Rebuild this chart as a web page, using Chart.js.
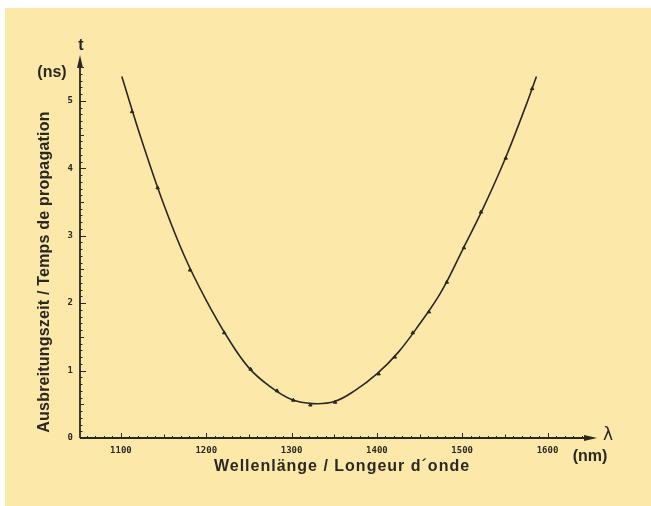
<!DOCTYPE html>
<html>
<head>
<meta charset="utf-8">
<script src="https://cdn.jsdelivr.net/npm/chart.js@4.4.1/dist/chart.umd.min.js"></script>
<style>
  html, body { margin: 0; padding: 0; background: #ffffff; }
  #wrap { position: relative; width: 651px; height: 506px; }
  #paper { position: absolute; left: 5px; top: 8px; right: 0; bottom: 0; background: #fce9a9; }
  canvas { position: absolute; left: 0; top: 0; }
</style>
</head>
<body>
<div id="wrap">
  <div id="paper"></div>
  <canvas id="chart" width="651" height="506"></canvas>
</div>
<script>
// Messpunkte (nm, ns)
const puntosX = [1113, 1143, 1181, 1221, 1252, 1283, 1302, 1322, 1351, 1402, 1421, 1442, 1461, 1482, 1502, 1522, 1551, 1582];
const puntosY = [4.84, 3.71, 2.49, 1.56, 1.02, 0.70, 0.56, 0.49, 0.53, 0.95, 1.20, 1.56, 1.87, 2.31, 2.82, 3.35, 4.15, 5.18];

// Ausgleichskurve
const curvaX = [1101, 1125, 1150, 1175, 1200, 1225, 1250, 1275, 1300, 1325, 1350, 1375, 1400, 1425, 1450, 1475, 1500, 1525, 1550, 1575, 1587];
const curvaY = [5.36, 4.39, 3.47, 2.68, 2.04, 1.49, 1.04, 0.76, 0.57, 0.51, 0.54, 0.71, 0.95, 1.27, 1.69, 2.16, 2.78, 3.42, 4.13, 4.94, 5.36];

const ticksX = [1100, 1200, 1300, 1400, 1500, 1600];
const ticksY = [0, 1, 2, 3, 4, 5];

const tituloX = "Wellenlänge / Longeur d\u00b4onde";
const tituloY = "Ausbreitungszeit / Temps de propagation";

function armarPuntos(xs, ys) {
  const out = [];
  for (let i = 0; i < xs.length; i++) out.push({ x: xs[i], y: ys[i] });
  return out;
}

const tinta = "#2b2722";

const ejes = {
  id: "ejes",
  afterDraw: function (chart) {
    const ctx = chart.ctx;
    const sx = chart.scales.x;
    const sy = chart.scales.y;
    const x0 = sx.getPixelForValue(sx.min);
    const y0 = sy.getPixelForValue(0);
    const xEnd = sx.getPixelForValue(sx.max);
    const yEnd = sy.getPixelForValue(sy.max);

    ctx.save();
    ctx.strokeStyle = tinta;
    ctx.fillStyle = tinta;

    // axis lines
    ctx.lineWidth = 1.8;
    ctx.beginPath();
    ctx.moveTo(x0, y0);
    ctx.lineTo(xEnd - 8, y0);
    ctx.moveTo(x0, y0);
    ctx.lineTo(x0, yEnd + 8);
    ctx.stroke();

    // arrows
    ctx.beginPath();
    ctx.moveTo(xEnd, y0);
    ctx.lineTo(xEnd - 13, y0 - 3);
    ctx.lineTo(xEnd - 13, y0 + 3);
    ctx.closePath();
    ctx.fill();
    ctx.beginPath();
    ctx.moveTo(x0, yEnd);
    ctx.lineTo(x0 - 3, yEnd + 13);
    ctx.lineTo(x0 + 3, yEnd + 13);
    ctx.closePath();
    ctx.fill();

    // x ticks every 10 nm
    ctx.lineWidth = 1;
    ctx.beginPath();
    for (let v = 1060; v <= 1640; v += 10) {
      const px = Math.round(sx.getPixelForValue(v)) + 0.5;
      let len = 2;
      if (v % 100 === 0) len = 5;
      else if (v % 50 === 0) len = 3.5;
      ctx.moveTo(px, y0);
      ctx.lineTo(px, y0 - len);
    }
    // y ticks every 0.1 ns
    for (let k = 1; k <= 55; k++) {
      const py = Math.round(sy.getPixelForValue(k / 10)) + 0.5;
      let len = 2.5;
      if (k % 10 === 0) len = 6;
      else if (k % 5 === 0) len = 4;
      ctx.moveTo(x0, py);
      ctx.lineTo(x0 + len, py);
    }
    ctx.stroke();

    // tick labels
    ctx.font = "bold 9px 'DejaVu Sans Mono'";
    ctx.textAlign = "center";
    ctx.textBaseline = "middle";
    for (let i = 0; i < ticksX.length; i++) {
      ctx.fillText(String(ticksX[i]), sx.getPixelForValue(ticksX[i]), y0 + 13);
    }
    ctx.textAlign = "right";
    for (let i = 0; i < ticksY.length; i++) {
      ctx.fillText(String(ticksY[i]), x0 - 7, sy.getPixelForValue(ticksY[i]));
    }

    // axis symbols and units
    ctx.font = "bold 16px 'Liberation Sans'";
    ctx.textAlign = "center";
    ctx.fillText("t", x0 + 1, yEnd - 9);
    ctx.fillText("(ns)", 52, 73);
    ctx.fillText("(nm)", 590, 457);
    ctx.font = "17px 'DejaVu Sans'";
    ctx.fillText("\u03bb", xEnd + 11, y0 - 2);

    // titles
    ctx.font = "bold 16px 'Liberation Sans'";
    ctx.letterSpacing = "1px";
    ctx.fillText(tituloX, 342, 467);
    ctx.letterSpacing = "0.2px";
    ctx.translate(45, 272);
    ctx.rotate(-Math.PI / 2);
    ctx.fillText(tituloY, 0, 0);
    ctx.restore();
  }
};

const ctx = document.getElementById("chart").getContext("2d");
new Chart(ctx, {
  type: "scatter",
  data: {
    datasets: [
      {
        label: "Kurve",
        data: armarPuntos(curvaX, curvaY),
        showLine: true,
        borderColor: tinta,
        borderWidth: 1.6,
        pointRadius: 0,
        tension: 0.4
      },
      {
        label: "Messpunkte",
        data: armarPuntos(puntosX, puntosY),
        pointStyle: "triangle",
        pointRadius: 2,
        backgroundColor: tinta,
        borderColor: tinta,
        borderWidth: 1
      }
    ]
  },
  plugins: [ejes],
  options: {
    responsive: false,
    animation: false,
    layout: { padding: { left: 80, top: 55, right: 54, bottom: 68 } },
    plugins: { legend: { display: false }, tooltip: { enabled: false } },
    scales: {
      x: { type: "linear", min: 1052, max: 1658, display: false },
      y: { type: "linear", min: 0, max: 5.68, display: false }
    }
  }
});
</script>
</body>
</html>
